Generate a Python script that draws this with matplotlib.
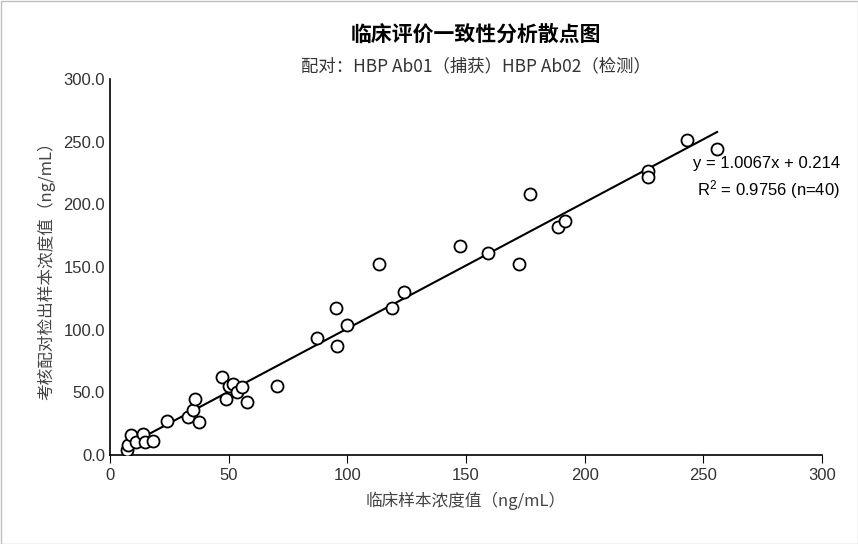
import matplotlib
matplotlib.use("Agg")
import matplotlib.pyplot as plt
import numpy as np

plt.rcParams['font.family'] = ['Noto Sans CJK SC', 'DejaVu Sans']

x = [7, 7.6, 8.8, 11, 14, 14.7, 18, 24, 33, 35, 36, 37.5, 47, 49, 50, 52, 53.5, 55.6, 57.7, 70.4,
     87.2, 95.2, 95.6, 99.9, 113.4, 118.8, 123.9, 147.5, 159.3, 172.4, 177, 188.8, 191.8,
     226.8, 226.8, 243, 255.8]
y = [4, 8, 16, 10, 17, 10, 11, 27, 30, 36, 45, 26, 62, 45, 55, 57, 50, 54, 42, 55,
     93, 117, 87, 104, 152, 117, 130, 167, 161, 152, 208, 182, 187,
     226.6, 221.8, 251, 244]
slope, intercept = 1.0067, 0.214

fig = plt.figure(figsize=(8.58, 5.44), dpi=100)
ax = fig.add_axes([110/858, 1-455/544, 712/858, 376/544])
ax.scatter(x, y, s=75, facecolors='white', edgecolors='black', linewidths=1.3, zorder=3)
lx = np.array([min(x), max(x)])
ax.plot(lx, slope*lx + intercept, color='black', lw=1.5, zorder=2)
ax.set_xlim(0, 300)
ax.set_ylim(0, 300)
ax.set_xticks(range(0, 301, 50))
ax.set_yticks(range(0, 301, 50))
ax.set_yticklabels([f"{v:.1f}" for v in range(0, 301, 50)])
for lab in ax.get_xticklabels() + ax.get_yticklabels():
    lab.set_fontfamily('Liberation Sans')
for s in ['top', 'right']:
    ax.spines[s].set_visible(False)
ax.spines['left'].set_linewidth(1.2)
ax.spines['bottom'].set_linewidth(1.2)
ax.tick_params(labelsize=12, colors='#333333', direction='in', length=0)
ax.tick_params(axis='x', direction='out', length=6, color='black')
ax.set_xlabel('临床样本浓度值（ng/mL）', fontsize=12, color='#444444', labelpad=6)
ax.set_ylabel('考核配对检出样本浓度值（ng/mL）', fontsize=12, color='#444444', labelpad=6)
fig.text(0.555, 0.925, '临床评价一致性分析散点图', ha='center', fontsize=15, fontweight='bold')
fig.text(0.555, 0.868, '配对：HBP Ab01（捕获）HBP Ab02（检测）', ha='center', fontsize=12.5, color='#333333')
ax.text(1.025, 0.735, f'y = {slope}x + {intercept}\n$\\mathregular{{R^2}}$ = 0.9756 (n=40)',
        transform=ax.transAxes, ha='right', va='center', fontsize=12, linespacing=1.4,
        family='Liberation Sans')
fig.patches.append(plt.Rectangle((0.5/858, 0.5/544), 1-1/858, 1-1/544, transform=fig.transFigure,
                                 fill=False, edgecolor='#bfbfbf', lw=1))
fig.savefig('out.png', dpi=100)
